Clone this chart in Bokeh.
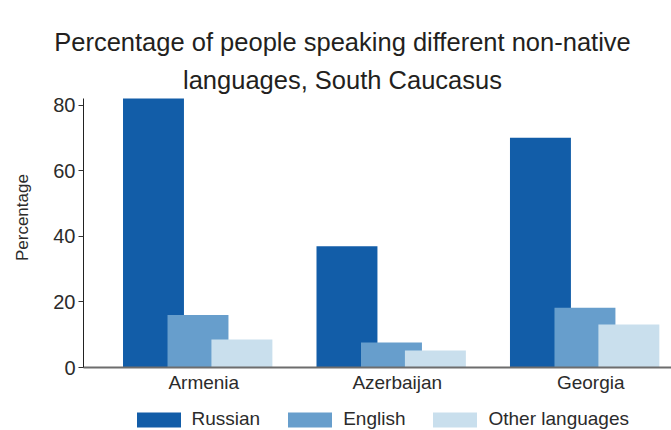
import math
from bokeh.plotting import figure
from bokeh.models import ColumnDataSource, FixedTicker, Range1d, Label, Legend, LegendItem
from bokeh.transform import dodge
from bokeh.embed import file_html
from bokeh.resources import INLINE

countries = ["Armenia", "Azerbaijan", "Georgia"]
russian = [82, 37, 70]
english = [16, 7.6, 18.2]
other = [8.5, 5.2, 13.1]
series = ["Russian", "English", "Other languages"]
colors = ["#125DA8", "#679ECC", "#C9DFED"]
y_ticks = [0, 20, 40, 60, 80]
y_label = "Percentage"
title_lines = ["Percentage of people speaking different non-native",
               "languages, South Caucasus"]

src = ColumnDataSource(dict(pos=list(range(len(countries))), russian=russian,
                            english=english, other=other))

# The frame covers the whole canvas; axes are pinned at fixed locations so that
# titles, axis title and legend (all annotations) can sit inside the frame.
X0, X1 = -1.0507, 2.4173      # x extent of canvas in data units
Y0, Y1 = -19.2, 111.87        # y extent of canvas in data units
AX_LEFT = -0.6217             # x position of the value axis
p = figure(width=671, height=430, output_backend="svg", toolbar_location=None,
           title_location=None,
           x_range=Range1d(X0, X1), y_range=Range1d(Y0, Y1),
           min_border_left=0, min_border_right=0, min_border_top=0,
           min_border_bottom=0)
p.outline_line_color = None
p.xgrid.visible = False
p.ygrid.visible = False

bw = 0.315
offs = [-0.26, -0.03, 0.197]
rends = []
for col, off, c in zip(["russian", "english", "other"], offs, colors):
    r = p.vbar(x=dodge("pos", off), top=col, width=bw, bottom=0, source=src,
               fill_color=c, line_color=None)
    rends.append(r)

TXT = "#2b2b2b"
FONT = "Liberation Sans"
# y axis
ya = p.yaxis[0]
ya.fixed_location = AX_LEFT
ya.ticker = FixedTicker(ticks=y_ticks)
ya.bounds = (0, 82)
ya.minor_tick_line_color = None
ya.major_tick_out = 5
ya.major_tick_in = 0
ya.major_tick_line_color = "#333333"
ya.axis_line_color = "#222222"
ya.major_label_text_font = FONT
ya.major_label_text_font_size = "20px"
ya.major_label_text_color = TXT
ya.major_label_standoff = 3

# x axis, pinned at y = 0
xa = p.xaxis[0]
xa.fixed_location = 0
xa.bounds = (AX_LEFT, X1)
xa.ticker = FixedTicker(ticks=list(range(len(countries))))
xa.major_label_overrides = {i: c for i, c in enumerate(countries)}
xa.major_tick_line_color = None
xa.major_tick_out = 0
xa.major_tick_in = 0
xa.minor_tick_line_color = None
xa.axis_line_color = "#6d6d6d"
xa.axis_line_width = 2
xa.major_label_text_font = FONT
xa.major_label_text_font_size = "19px"
xa.major_label_text_color = TXT
xa.major_label_standoff = 4

# y axis title
p.add_layout(Label(x=-0.9395, y=45.7, text=y_label, angle=math.pi / 2,
                   text_align="center", text_baseline="middle",
                   text_font=FONT, text_font_size="17px", text_color=TXT))

# chart title
for txt, yy in zip(title_lines, [99.2, 87.6]):
    p.add_layout(Label(x=0.7168, y=yy, text=txt, text_align="center",
                       text_baseline="alphabetic", text_font=FONT,
                       text_font_size="25.5px", text_color="#231f20"))

legend = Legend(items=[LegendItem(label=s, renderers=[r]) for s, r in zip(series, rends)],
                orientation="horizontal", location=(130.5, 0),
                glyph_width=55, glyph_height=19, label_standoff=6, spacing=22,
                padding=0, margin=0, border_line_color=None, background_fill_alpha=0,
                label_text_font=FONT, label_text_font_size="19px",
                label_text_color=TXT, label_height=22)
p.add_layout(legend, "center")

open("out.html", "w").write(file_html(p, INLINE))
